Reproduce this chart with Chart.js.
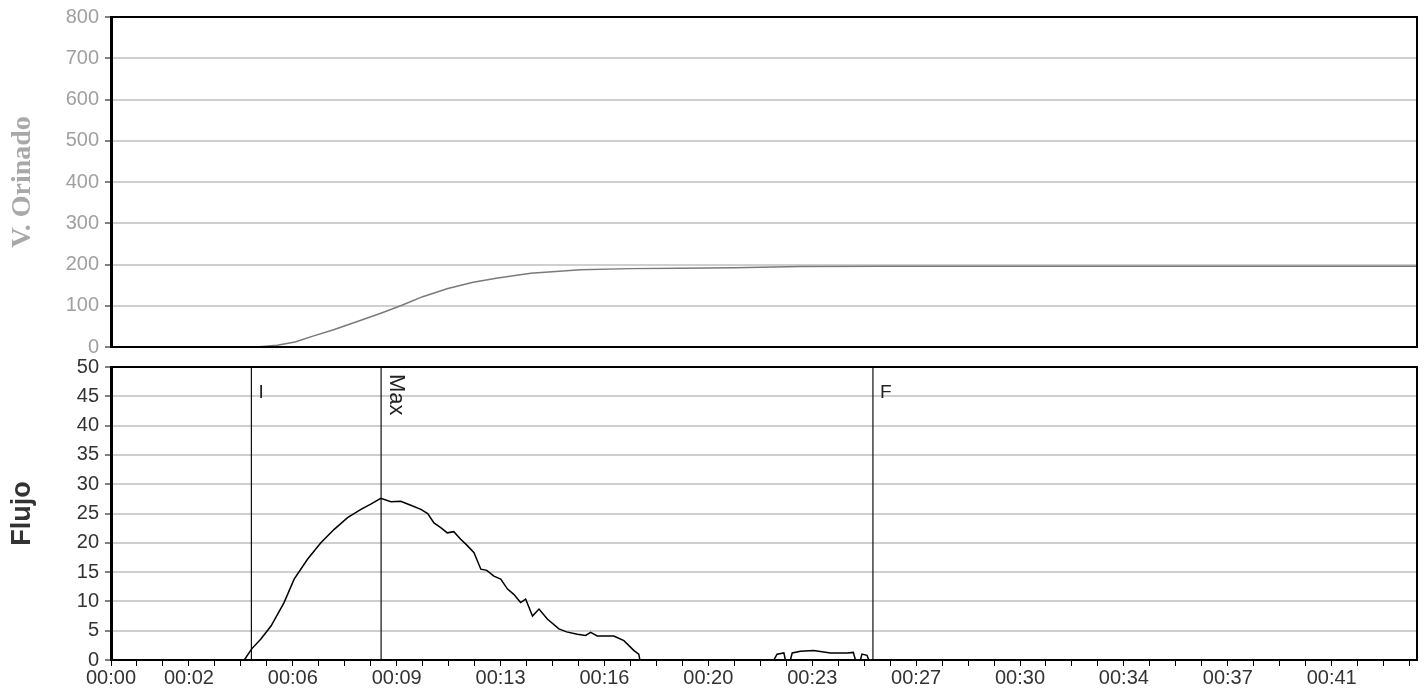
<!DOCTYPE html>
<html>
<head>
<meta charset="utf-8">
<script src="https://cdn.jsdelivr.net/npm/chart.js@4.4.1/dist/chart.umd.min.js"></script>
<style>
  body { margin: 0; background: #fff; }
  .box { position: absolute; left: 0; width: 1426px; }
  #top { top: 0; height: 362px; }
  #bottom { top: 350px; height: 347px; }
</style>
</head>
<body>
<div class="box" id="top"><canvas id="volChart" width="1426" height="362"></canvas></div>
<div class="box" id="bottom"><canvas id="flowChart" width="1426" height="347"></canvas></div>
<script>
// voided volume (top) - seconds / ml
const volTimes  = [0, 4.9, 5.6, 6.2, 6.83, 7.5, 8.3, 9.09, 9.76, 10.5, 11.35, 12.2, 13.03, 14.14, 15.82, 17.5, 19.2, 21, 23.2, 26, 44];
const volValues = [0, 0, 4, 12, 27, 42, 62, 82, 100, 122, 142, 157, 167, 179, 187, 190, 191, 192, 195, 196, 196];

// flow (bottom) - seconds / ml/s
const flowTimes = [0, 4.49, 4.74, 5.05, 5.39, 5.83, 6.17, 6.62, 7.07, 7.52, 7.97, 8.42, 8.75, 9.09, 9.43, 9.76,
  10.1, 10.44, 10.67, 10.88, 11.11, 11.33, 11.55, 11.78, 11.99, 12.23, 12.46, 12.66, 12.9, 13.13, 13.36, 13.57,
  13.8, 13.97, 14.2, 14.42, 14.7, 15.09, 15.35, 15.71, 15.99, 16.16, 16.38, 16.94, 17.28, 17.62, 17.78, 17.82,
  22.33, 22.44, 22.67, 22.72, 22.89, 22.95, 23.23, 23.67, 24.24, 24.8, 25.01, 25.08, 25.25, 25.3, 25.47, 25.53, 44];
const flowValues = [0, 0, 1.9, 3.6, 5.8, 9.8, 13.8, 17.2, 20, 22.3, 24.3, 25.7, 26.6, 27.6, 27.0, 27.1,
  26.4, 25.7, 25.0, 23.4, 22.6, 21.7, 21.9, 20.6, 19.6, 18.3, 15.5, 15.3, 14.3, 13.8, 12.1, 11.2,
  9.8, 10.4, 7.5, 8.7, 7.0, 5.3, 4.8, 4.4, 4.2, 4.7, 4.1, 4.1, 3.3, 1.6, 1.0, 0,
  0, 1.0, 1.2, 0, 0, 1.2, 1.5, 1.6, 1.2, 1.2, 1.3, 0, 0, 1.0, 0.8, 0, 0];

// event markers on the flow curve
const markerTimes  = [4.73, 9.1, 25.67];
const markerLabels = ['I', 'Max', 'F'];

// time axis
const xMax = 44;
const xMinorStep = 0.875;
const xTickSeconds = [0, 2.625, 6.125, 9.625, 13.125, 16.625, 20.125, 23.625, 27.125, 30.625, 34.125, 37.625, 41.125];
const xTickLabels  = ['00:00', '00:02', '00:06', '00:09', '00:13', '00:16', '00:20', '00:23', '00:27', '00:30', '00:34', '00:37', '00:41'];

const toPoints = (xs, ys) => xs.map((x, i) => ({ x: x, y: ys[i] }));

const framePlugin = {
  id: 'frame',
  afterDatasetsDraw(chart) {
    const { ctx, chartArea: a } = chart;
    ctx.save();
    ctx.strokeStyle = '#000';
    ctx.lineWidth = 2;
    ctx.strokeRect(a.left, a.top, a.right - a.left, a.bottom - a.top);
    ctx.restore();
  }
};

const markerLabelPlugin = {
  id: 'markerLabels',
  afterDatasetsDraw(chart) {
    const { ctx, chartArea: a } = chart;
    const xs = chart.scales.x;
    ctx.save();
    ctx.fillStyle = '#222';
    markerTimes.forEach((t, i) => {
      const px = xs.getPixelForValue(t);
      const label = markerLabels[i];
      if (label.length > 1) {
        ctx.save();
        ctx.font = '22px "Liberation Sans", Arial, sans-serif';
        ctx.translate(px + 4, a.top + 7);
        ctx.rotate(Math.PI / 2);
        ctx.textBaseline = 'bottom';
        ctx.textAlign = 'left';
        ctx.fillText(label, 0, 0);
        ctx.restore();
      } else {
        ctx.font = '19px "Liberation Sans", Arial, sans-serif';
        ctx.textBaseline = 'top';
        ctx.textAlign = 'left';
        ctx.fillText(label, px + 7, a.top + 16);
      }
    });
    ctx.restore();
  }
};

// fixed axis box so both panels line up
const fixY = (s) => { s.width = 111; s.paddingTop = 0; s.paddingBottom = 0; };

const yAxis = (max, step, tickColor, title, titleFont, titleColor) => ({
  min: 0,
  max: max,
  afterFit: fixY,
  ticks: {
    stepSize: step,
    color: tickColor,
    padding: 6,
    font: { family: '"Liberation Sans", Arial, sans-serif', size: 20 }
  },
  grid: { color: '#cfcfcf', lineWidth: 2, tickColor: '#000', tickLength: 6, tickWidth: 1 },
  border: { display: true, color: '#000', width: 3 },
  title: { display: true, text: title, color: titleColor, font: titleFont, padding: { top: 9, bottom: 0 } }
});

new Chart(document.getElementById('volChart'), {
  type: 'line',
  data: {
    datasets: [{
      data: toPoints(volTimes, volValues),
      borderColor: '#7a7a7a',
      borderWidth: 1.5,
      pointRadius: 0,
      tension: 0
    }]
  },
  options: {
    responsive: false,
    animation: false,
    layout: { padding: { top: 17, right: 9, bottom: 15, left: 0 } },
    plugins: { legend: { display: false }, tooltip: { enabled: false } },
    scales: {
      x: { type: 'linear', min: 0, max: xMax, display: false },
      y: yAxis(800, 100, '#a0a0a0', 'V. Orinado',
        { family: '"Liberation Serif", "Times New Roman", serif', size: 28, weight: 'bold', lineHeight: 1 }, '#a8a8a8')
    }
  },
  plugins: [framePlugin]
});

const markerSets = markerTimes.map((t) => ({
  data: [{ x: t, y: 0 }, { x: t, y: 50 }],
  borderColor: '#111',
  borderWidth: 1.2,
  pointRadius: 0,
  tension: 0
}));

new Chart(document.getElementById('flowChart'), {
  type: 'line',
  data: {
    datasets: [{
      data: toPoints(flowTimes, flowValues),
      borderColor: '#000',
      borderWidth: 1.5,
      pointRadius: 0,
      tension: 0
    }, ...markerSets]
  },
  options: {
    responsive: false,
    animation: false,
    layout: { padding: { top: 17, right: 9, bottom: 0, left: 0 } },
    plugins: { legend: { display: false }, tooltip: { enabled: false } },
    scales: {
      x: {
        type: 'linear',
        min: 0,
        max: xMax,
        afterFit: (s) => { s.height = 37; s.paddingLeft = 0; s.paddingRight = 0; },
        afterBuildTicks: (s) => {
          const ticks = [];
          for (let v = 0; v <= xMax + 1e-9; v += xMinorStep) ticks.push({ value: v });
          s.ticks = ticks;
        },
        ticks: {
          autoSkip: false,
          maxRotation: 0,
          padding: 0,
          color: '#333',
          font: { family: '"Liberation Sans", Arial, sans-serif', size: 20 },
          callback: (value) => {
            const i = xTickSeconds.findIndex((s) => Math.abs(s - value) < 1e-6);
            return i >= 0 ? xTickLabels[i] : '';
          }
        },
        grid: { drawOnChartArea: false, drawTicks: true, tickLength: 6, color: '#000', lineWidth: 1 },
        border: { display: true, color: '#000', width: 2 }
      },
      y: yAxis(50, 5, '#333', 'Flujo',
        { family: '"Liberation Sans", Arial, sans-serif', size: 27, weight: 'bold', lineHeight: 1 }, '#333')
    }
  },
  plugins: [framePlugin, markerLabelPlugin]
});
</script>
</body>
</html>
